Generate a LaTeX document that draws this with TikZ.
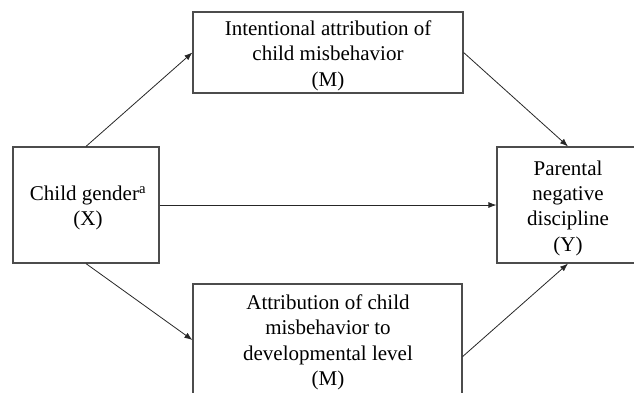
\documentclass[tikz,border=0pt]{standalone}
\usepackage{fontspec}
\setmainfont{Liberation Serif}
\usepackage{tikz}
\usetikzlibrary{
    arrows.meta
}

\tikzset{
    box/.style={draw=black!70, line width=1.2pt, fill=none, inner sep=0pt},
    txt/.style={align=center, inner sep=0pt, font=\fontsize{21}{25.3}\selectfont},
    link/.style={draw=black!85, line width=0.8pt, -{Latex[length=8pt,width=6pt]}}
}

\begin{document}
\begin{tikzpicture}[x=1pt, y=-1pt]
    \useasboundingbox (0, 0) rectangle (634, 392);
    \clip (0, 0) rectangle (634, 392);
    \node[box, minimum width=146pt, minimum height=116pt] (gender) at (86, 205) {};
    \node[box, minimum width=270pt, minimum height=81pt] (intent) at (328, 52.5) {};
    \node[box, minimum width=142pt, minimum height=116pt] (discip) at (568, 205) {};
    \node[box, minimum width=269pt, minimum height=112pt] (devel) at (327.5, 340) {};
    \node[txt] (gendertxt) at (88, 208.2) {Child gender\textsuperscript{a}\\(X)};
    \node[txt] (intenttxt) at (328, 55.7) {Intentional attribution of\\child misbehavior\\(M)};
    \node[txt] (disciptxt) at (568, 208.2) {Parental\\negative\\discipline\\(Y)};
    \node[txt] (develtxt) at (328, 342.4) {Attribution of child\\misbehavior to\\developmental level\\(M)};
    \draw[link] (gender.north) -- (intent.west);
    \draw[link] (intent.east) -- (discip.north);
    \draw[link] (gender.east) -- (discip.west);
    \draw[link] (gender.south) -- (devel.west);
    \draw[link] (devel.-7.6) -- (discip.south);
\end{tikzpicture}
\end{document}
